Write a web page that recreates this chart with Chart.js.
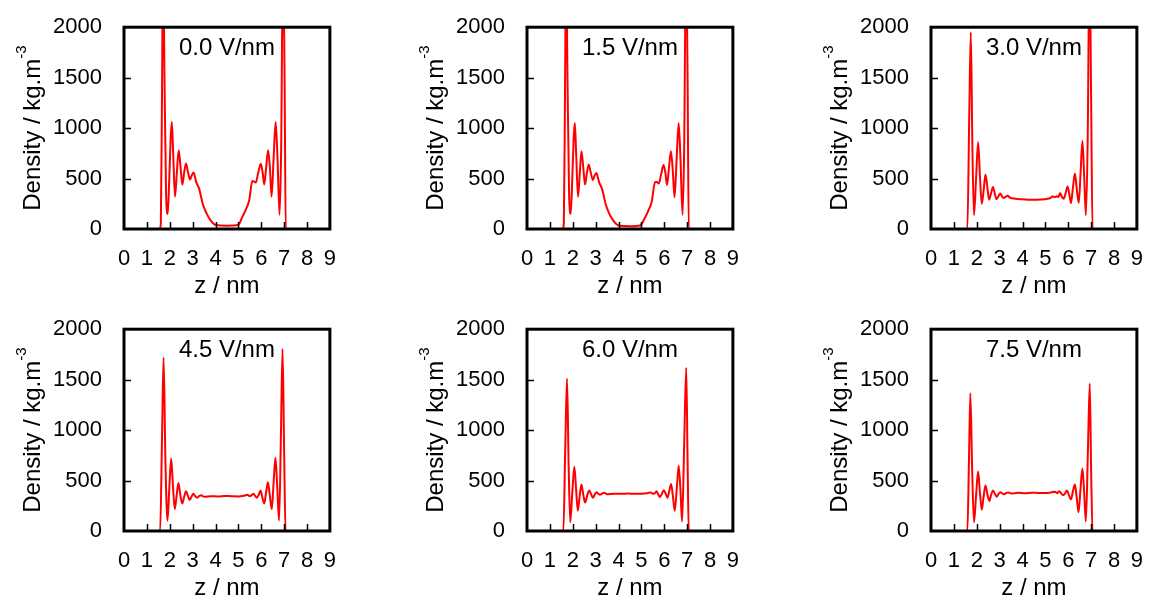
<!DOCTYPE html>
<html lang="en">
<head>
<meta charset="UTF-8"/>
<title>Density profiles</title>
<script src="https://cdn.jsdelivr.net/npm/chart.js"></script>
<style>
    body { margin: 0; background: #fff; overflow: hidden; width: 1152px; height: 601px; position: relative; }
    canvas { position: absolute; }
</style>
</head>
<body>
<canvas id="c0" width="345" height="299" style="left:0px;top:0px"></canvas>
<canvas id="c1" width="345" height="299" style="left:403px;top:0px"></canvas>
<canvas id="c2" width="345" height="299" style="left:807px;top:0px"></canvas>
<canvas id="c3" width="345" height="299" style="left:0px;top:302px"></canvas>
<canvas id="c4" width="345" height="299" style="left:403px;top:302px"></canvas>
<canvas id="c5" width="345" height="299" style="left:807px;top:302px"></canvas>
<script>
// field strength of each panel
const fields = ['0.0 V/nm', '1.5 V/nm', '3.0 V/nm', '4.5 V/nm', '6.0 V/nm', '7.5 V/nm'];
const xTicks = [0, 1, 2, 3, 4, 5, 6, 7, 8, 9];
const yTicks = [0, 500, 1000, 1500, 2000];

// z / nm and density / kg.m^-3
const z00 = [0, 1.55, 1.61, 1.66, 1.71, 1.77, 1.84, 1.91, 1.98, 2.04,
    2.09, 2.15, 2.23, 2.31, 2.39, 2.47, 2.55, 2.63, 2.71, 2.80,
    2.89, 2.96, 3.04, 3.15, 3.29, 3.44, 3.60, 3.73, 3.88, 4.02,
    4.50, 4.99, 5.17, 5.32, 5.47, 5.61, 5.69, 5.76, 5.87, 5.98,
    6.06, 6.13, 6.21, 6.30, 6.38, 6.45, 6.54, 6.63, 6.71, 6.80,
    6.87, 6.95, 7.02, 7.07, 7.15, 9];
const rho00 = [0, 0, 50, 1300, 2700, 1500, 350, 150, 500, 900,
    1060, 750, 320, 560, 780, 620, 440, 560, 650, 560,
    490, 530, 560, 470, 395, 250, 160, 104, 60, 39,
    33, 39, 120, 190, 282, 475, 470, 460, 560, 647,
    560, 440, 600, 780, 600, 320, 700, 1060, 700, 140,
    800, 2700, 1500, 0, 0, 0];

const z15 = [0, 1.55, 1.61, 1.66, 1.71, 1.77, 1.84, 1.91, 1.98, 2.04,
    2.09, 2.15, 2.23, 2.31, 2.38, 2.46, 2.54, 2.62, 2.70, 2.79,
    2.88, 2.95, 3.03, 3.15, 3.29, 3.44, 3.60, 3.75, 3.90, 4.05,
    4.50, 4.95, 5.15, 5.30, 5.45, 5.60, 5.68, 5.76, 5.87, 5.97,
    6.05, 6.12, 6.20, 6.29, 6.37, 6.45, 6.54, 6.63, 6.71, 6.80,
    6.87, 6.95, 7.02, 7.07, 7.15, 9];
const rho15 = [0, 0, 50, 1300, 2700, 1500, 350, 150, 500, 900,
    1050, 740, 320, 560, 770, 610, 440, 560, 640, 555,
    485, 525, 555, 465, 390, 245, 150, 90, 50, 32,
    28, 35, 110, 180, 270, 465, 465, 450, 550, 635,
    555, 435, 590, 770, 590, 315, 690, 1050, 690, 140,
    800, 2700, 1500, 0, 0, 0];

const z30 = [0, 1.52, 1.59, 1.67, 1.74, 1.81, 1.88, 1.97, 2.06, 2.14,
    2.22, 2.30, 2.38, 2.46, 2.54, 2.62, 2.71, 2.79, 2.86, 2.95,
    3.03, 3.10, 3.17, 3.26, 3.35, 3.45, 3.70, 4.00, 4.40, 4.80,
    5.10, 5.25, 5.32, 5.40, 5.50, 5.57, 5.64, 5.72, 5.80, 5.88,
    5.97, 6.05, 6.12, 6.20, 6.29, 6.37, 6.46, 6.54, 6.62, 6.70,
    6.77, 6.85, 6.93, 7.00, 7.06, 7.15, 9];
const rho30 = [0, 0, 0, 1100, 1950, 800, 136, 500, 860, 520,
    250, 380, 540, 420, 291, 350, 417, 350, 295, 325,
    353, 325, 308, 318, 330, 310, 300, 295, 290, 292,
    300, 312, 325, 315, 325, 318, 356, 320, 299, 350,
    421, 340, 256, 400, 550, 400, 259, 560, 871, 500,
    136, 900, 2700, 1300, 0, 0, 0];

const z45 = [0, 1.52, 1.58, 1.66, 1.73, 1.81, 1.90, 1.98, 2.06, 2.14,
    2.22, 2.30, 2.38, 2.46, 2.55, 2.63, 2.71, 2.79, 2.87, 2.95,
    3.03, 3.11, 3.20, 3.28, 3.37, 3.50, 3.80, 4.10, 4.40, 4.70,
    5.00, 5.25, 5.40, 5.50, 5.58, 5.66, 5.74, 5.81, 5.89, 5.97,
    6.05, 6.13, 6.21, 6.29, 6.37, 6.46, 6.54, 6.62, 6.70, 6.78,
    6.86, 6.93, 7.00, 7.06, 7.15, 9];
const rho45 = [0, 0, 0, 900, 1720, 700, 104, 420, 718, 450,
    217, 350, 476, 360, 272, 340, 395, 350, 308, 340,
    369, 345, 330, 345, 355, 340, 345, 343, 348, 345,
    343, 350, 360, 345, 355, 369, 345, 330, 360, 401,
    330, 272, 380, 484, 360, 217, 480, 725, 430, 104,
    950, 1803, 800, 0, 0, 0];

const z60 = [0, 1.53, 1.59, 1.67, 1.75, 1.82, 1.89, 1.98, 2.07, 2.15,
    2.22, 2.30, 2.38, 2.46, 2.54, 2.63, 2.72, 2.80, 2.88, 2.96,
    3.04, 3.12, 3.19, 3.28, 3.38, 3.50, 3.80, 4.10, 4.40, 4.70,
    5.00, 5.25, 5.42, 5.52, 5.59, 5.66, 5.74, 5.81, 5.90, 5.98,
    6.06, 6.14, 6.22, 6.30, 6.38, 6.46, 6.55, 6.63, 6.71, 6.78,
    6.87, 6.96, 7.02, 7.07, 7.15, 9];
const rho60 = [0, 0, 0, 800, 1511, 650, 87, 380, 638, 400,
    201, 340, 460, 360, 282, 350, 402, 365, 330, 360,
    385, 368, 359, 370, 378, 365, 370, 368, 372, 368,
    370, 375, 382, 368, 375, 395, 360, 337, 370, 405,
    370, 330, 400, 466, 340, 201, 430, 647, 400, 94,
    850, 1618, 700, 0, 0, 0];

const z75 = [0, 1.52, 1.59, 1.66, 1.72, 1.80, 1.88, 1.97, 2.06, 2.14,
    2.22, 2.30, 2.38, 2.46, 2.55, 2.63, 2.71, 2.79, 2.87, 2.95,
    3.04, 3.12, 3.20, 3.29, 3.38, 3.50, 3.80, 4.10, 4.40, 4.70,
    5.00, 5.25, 5.42, 5.52, 5.61, 5.70, 5.78, 5.86, 5.94, 6.03,
    6.12, 6.20, 6.29, 6.37, 6.45, 6.53, 6.62, 6.70, 6.77, 6.86,
    6.94, 7.00, 7.06, 7.15, 9];
const rho75 = [0, 0, 0, 700, 1366, 600, 87, 350, 589, 380,
    211, 340, 450, 370, 298, 360, 401, 370, 340, 365,
    385, 372, 365, 378, 382, 372, 378, 375, 380, 377,
    376, 382, 390, 375, 395, 370, 355, 372, 401, 355,
    314, 390, 460, 330, 186, 400, 620, 360, 94, 800,
    1463, 600, 0, 0, 0];

const zs = [z00, z15, z30, z45, z60, z75];
const rhos = [rho00, rho15, rho30, rho45, rho60, rho75];

const FONT = "'Liberation Sans', Arial, Helvetica, sans-serif";

// frame, inner ticks and the texts that chart.js can't place the way gnuplot does
const framePlugin = {
    id: 'frame',
    afterDatasetsDraw(chart, args, opts) {
        const ctx = chart.ctx;
        const a = chart.chartArea;
        const xs = chart.scales.x, ys = chart.scales.y;
        ctx.save();
        ctx.strokeStyle = '#000';
        ctx.lineWidth = 1.5;
        ctx.beginPath();
        xTicks.slice(1, -1).forEach(v => {
            const px = Math.round(xs.getPixelForValue(v)) + 0.5;
            ctx.moveTo(px, a.bottom);
            ctx.lineTo(px, a.bottom - 7);
        });
        yTicks.slice(1, -1).forEach(v => {
            const py = Math.round(ys.getPixelForValue(v)) + 0.5;
            ctx.moveTo(a.left, py);
            ctx.lineTo(a.left + 7, py);
        });
        ctx.stroke();
        ctx.lineWidth = 3;
        ctx.strokeRect(a.left, a.top, a.right - a.left, a.bottom - a.top);

        ctx.fillStyle = '#000';
        ctx.font = '24px ' + FONT;
        ctx.textAlign = 'center';
        ctx.textBaseline = 'middle';
        const cx = (a.left + a.right) / 2;
        ctx.fillText(opts.label, cx, a.top + 21);
        ctx.fillText('z / nm', cx, a.bottom + 57);

        // y title with superscript
        const main = 'Density / kg.m', sup = '-3';
        ctx.translate(31, (a.top + a.bottom) / 2);
        ctx.rotate(-Math.PI / 2);
        ctx.textAlign = 'left';
        ctx.textBaseline = 'alphabetic';
        ctx.font = '24px ' + FONT;
        const w1 = ctx.measureText(main).width;
        ctx.font = '15px ' + FONT;
        const w2 = ctx.measureText(sup).width;
        const x0 = -(w1 + w2) / 2;
        ctx.font = '24px ' + FONT;
        ctx.fillText(main, x0, 8.5);
        ctx.font = '15px ' + FONT;
        ctx.fillText(sup, x0 + w1, -5.5);
        ctx.restore();
    }
};

fields.forEach((label, i) => {
    const pts = zs[i].map((z, k) => ({ x: z, y: rhos[i][k] }));
    new Chart(document.getElementById('c' + i), {
        type: 'line',
        data: {
            datasets: [{
                data: pts,
                borderColor: '#ff0000',
                borderWidth: 2,
                pointRadius: 0,
                fill: false,
                cubicInterpolationMode: 'monotone'
            }]
        },
        options: {
            responsive: false,
            animation: false,
            layout: { padding: { top: 23, right: 14, left: 0, bottom: 0 } },
            plugins: {
                legend: { display: false },
                tooltip: { enabled: false },
                frame: { label: label }
            },
            scales: {
                x: {
                    type: 'linear',
                    min: 0, max: 9,
                    grid: { display: false },
                    border: { display: false },
                    ticks: { stepSize: 1, color: '#000', padding: 9, maxRotation: 0, font: { size: 22, family: FONT },
                        callback: v => String(v) },
                    afterFit: s => { s.height = 70; }
                },
                y: {
                    min: 0, max: 2000,
                    grid: { display: false },
                    border: { display: false },
                    ticks: { stepSize: 500, color: '#000', padding: 14, font: { size: 22, family: FONT },
                        callback: v => String(v) },
                    afterFit: s => { s.width = 124; }
                }
            }
        },
        plugins: [framePlugin]
    });
});
</script>
</body>
</html>
